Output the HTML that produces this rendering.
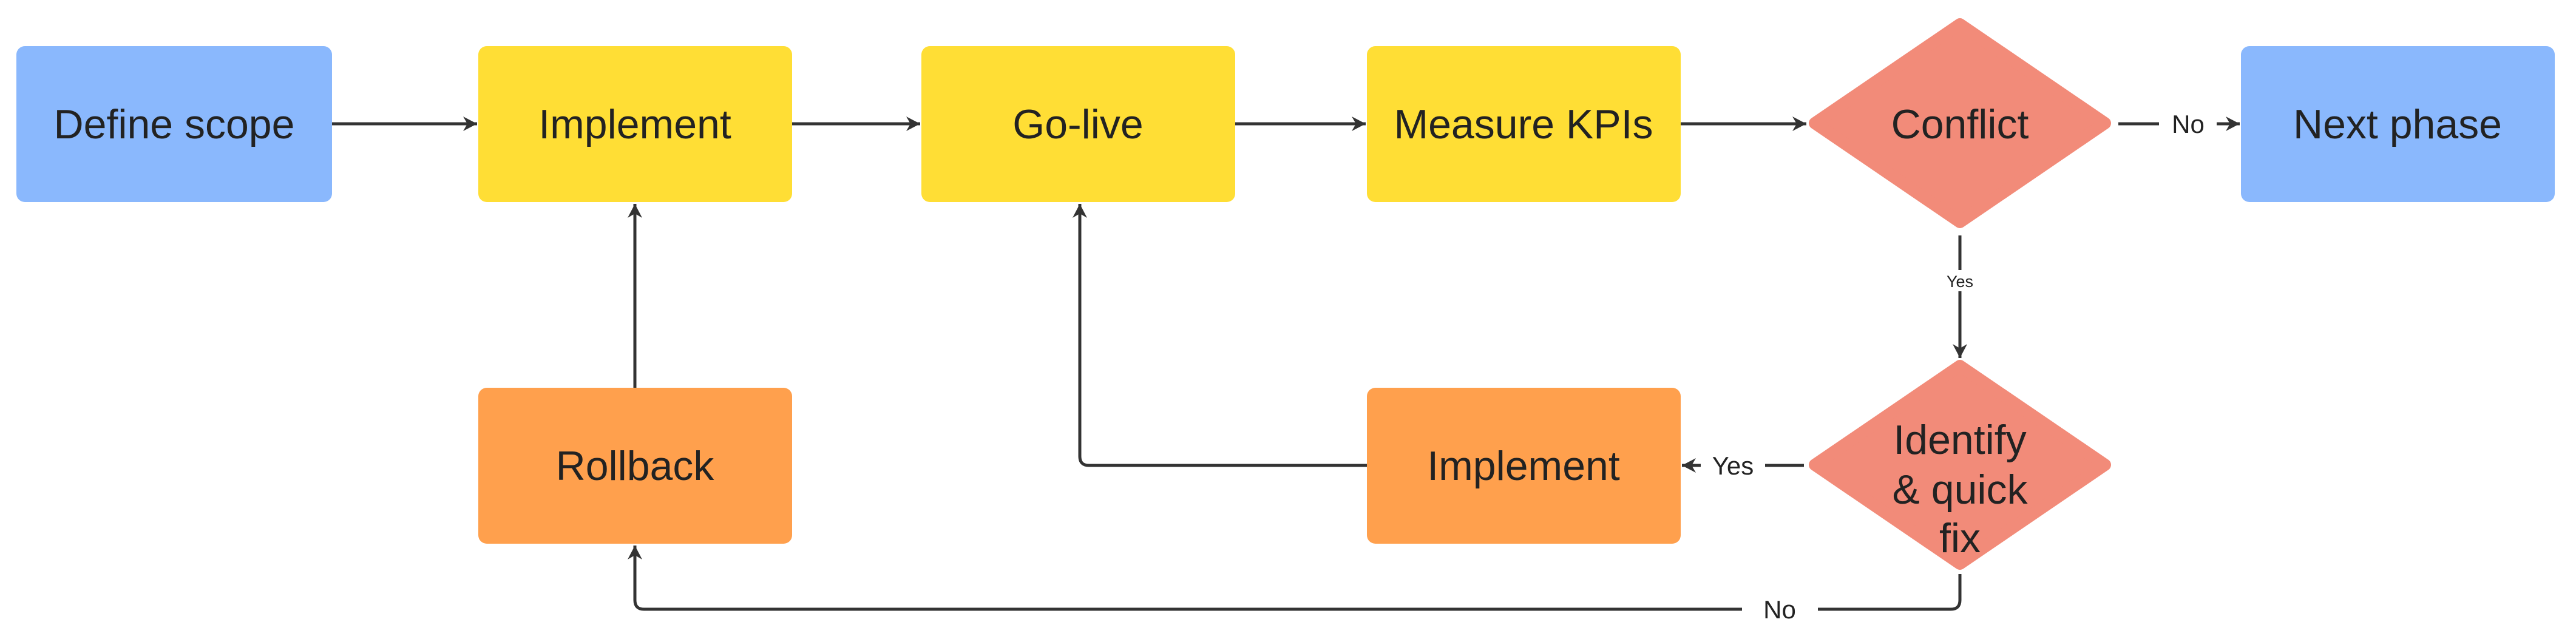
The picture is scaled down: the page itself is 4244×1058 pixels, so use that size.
<!DOCTYPE html>
<html><head><meta charset="utf-8"><style>
html,body{margin:0;padding:0;background:#fff;}
svg{display:block;}
text{font-family:"Liberation Sans",sans-serif;fill:#222;}
</style></head><body>
<svg width="4244" height="1058" viewBox="0 0 4244 1058" xmlns="http://www.w3.org/2000/svg">
<defs>
<marker id="a" markerUnits="userSpaceOnUse" markerWidth="32" markerHeight="32" refX="27" refY="16" orient="auto">
<path d="M4,4 L27,16 L4,28 L11,16 Z" fill="#333"/>
</marker>
</defs>
<rect width="4244" height="1058" fill="#fff"/>
<g stroke="#333" stroke-width="5" fill="none" marker-end="url(#a)">
<line x1="547" y1="204" x2="786" y2="204"/>
<line x1="1305" y1="204" x2="1516" y2="204"/>
<line x1="2035" y1="204" x2="2250" y2="204"/>
<line x1="2769" y1="204" x2="2976" y2="204"/>
<path d="M3652,204 L3690,204"/>
<path d="M3229,480 L3229,590"/>
<path d="M2802,767 L2771,767"/>
<path d="M2252,767 L1794,767 Q1779,767 1779,752 L1779,336"/>
<line x1="1046" y1="639" x2="1046" y2="336"/>
<path d="M2870,1004 L1061,1004 Q1046,1004 1046,989 L1046,899"/>
</g>
<g stroke="#333" stroke-width="5" fill="none">
<line x1="3490" y1="204" x2="3557" y2="204"/>
<line x1="3229" y1="388" x2="3229" y2="445"/>
<line x1="2972" y1="767" x2="2908" y2="767"/>
<path d="M2995,1004 L3214,1004 Q3229,1004 3229,989 L3229,946"/>
</g>
<rect x="27" y="76" width="520" height="257" rx="14" fill="#8ab8fd"/>
<rect x="788" y="76" width="517" height="257" rx="14" fill="#ffde35"/>
<rect x="1518" y="76" width="517" height="257" rx="14" fill="#ffde35"/>
<rect x="2252" y="76" width="517" height="257" rx="14" fill="#ffde35"/>
<rect x="3692" y="76" width="517" height="257" rx="14" fill="#8ab8fd"/>
<rect x="788" y="639" width="517" height="257" rx="14" fill="#ffa04d"/>
<rect x="2252" y="639" width="517" height="257" rx="14" fill="#ffa04d"/>
<polygon points="3229,40 3468,203 3229,366 2990,203" fill="#f28b79" stroke="#f28b79" stroke-width="20" stroke-linejoin="round"/>
<polygon points="3229,603 3468,766 3229,929 2990,766" fill="#f28b79" stroke="#f28b79" stroke-width="20" stroke-linejoin="round"/>
<g font-size="68" text-anchor="middle">
<text x="287" y="228">Define scope</text>
<text x="1046" y="228">Implement</text>
<text x="1776" y="228">Go-live</text>
<text x="2510" y="228">Measure KPIs</text>
<text x="3229" y="228">Conflict</text>
<text x="3950" y="228">Next phase</text>
<text x="1046" y="791">Rollback</text>
<text x="2510" y="791">Implement</text>
<text x="3229" y="748">Identify</text>
<text x="3229" y="830">&amp; quick</text>
<text x="3229" y="910">fix</text>
</g>
<g font-size="42" text-anchor="middle">
<text x="3605" y="219">No</text>
<text x="2855" y="782">Yes</text>
<text x="2932" y="1019">No</text>
</g>
<text x="3229" y="473" font-size="27" text-anchor="middle">Yes</text>
</svg>
</body></html>
